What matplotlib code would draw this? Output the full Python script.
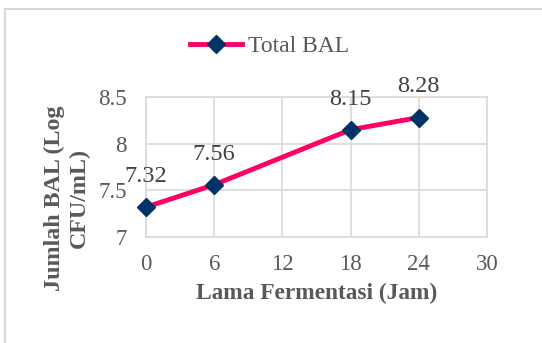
import matplotlib
matplotlib.use("Agg")
import matplotlib.pyplot as plt
from matplotlib.lines import Line2D

hours = [0, 6, 18, 24]
total_bal = [7.32, 7.56, 8.15, 8.28]
xticks = [0, 6, 12, 18, 24, 30]
yticks = [7, 7.5, 8, 8.5]
series_name = "Total BAL"
xlabel = "Lama Fermentasi (Jam)"
ylabel = "Jumlah BAL (Log\nCFU/mL)"

plt.rcParams['font.family'] = ['Liberation Serif', 'DejaVu Serif']
W, H = 542, 343
fig = plt.figure(figsize=(W / 100, H / 100), dpi=100)
ax = fig.add_axes([146 / W, 1 - 237 / H, (487 - 146) / W, (237 - 97) / H])

txt = '#595959'
grid = '#D9D9D9'

ax.plot(hours, total_bal, color='#FF0066', lw=3.5, marker='D', ms=9.5,
        mfc='#003366', mec='#003366', label=series_name, zorder=3, clip_on=False)
for x, y in zip(hours, total_bal):
    ax.annotate(f"{y:.2f}", (x, y), xytext=(0, 22), textcoords='offset points',
                ha='center', va='center', fontsize=17.5, color='#404040')

ax.set_xlim(0, 30)
ax.set_ylim(7, 8.5)
ax.set_xticks(xticks)
ax.set_yticks(yticks)
ax.set_yticklabels([f"{v:g}" for v in yticks])
ax.grid(True, color=grid, lw=1.2)
ax.set_axisbelow(True)
for s in ax.spines.values():
    s.set_color(grid)
    s.set_linewidth(1.2)
ax.tick_params(length=0, labelsize=16.5, labelcolor=txt, pad=12)
ax.tick_params(axis='y', pad=14)

ax.set_xlabel(xlabel, fontsize=16.8, fontweight='bold', color=txt, labelpad=6)
ax.set_ylabel(ylabel, fontsize=17.3, fontweight='bold', color=txt, ha='center', va='center',
              multialignment='center')
ax.yaxis.set_label_coords(-(146 - 67) / (487 - 146), (237 - 198) / (237 - 97))

leg = ax.legend(loc='center left', bbox_to_anchor=((190 - 146) / (487 - 146), (237 - 46) / (237 - 97)),
                frameon=False, fontsize=17, handlelength=2.2, handletextpad=0.25, borderaxespad=0,
                borderpad=0)
for t in leg.get_texts():
    t.set_color(txt)

fig.add_artist(Line2D([5 / W, 5 / W], [0, 1 - 9 / H], transform=fig.transFigure, color=grid, lw=1.5))
fig.add_artist(Line2D([5 / W, 1], [1 - 9 / H, 1 - 9 / H], transform=fig.transFigure, color=grid, lw=1.5))

fig.savefig("out.png", dpi=100)
